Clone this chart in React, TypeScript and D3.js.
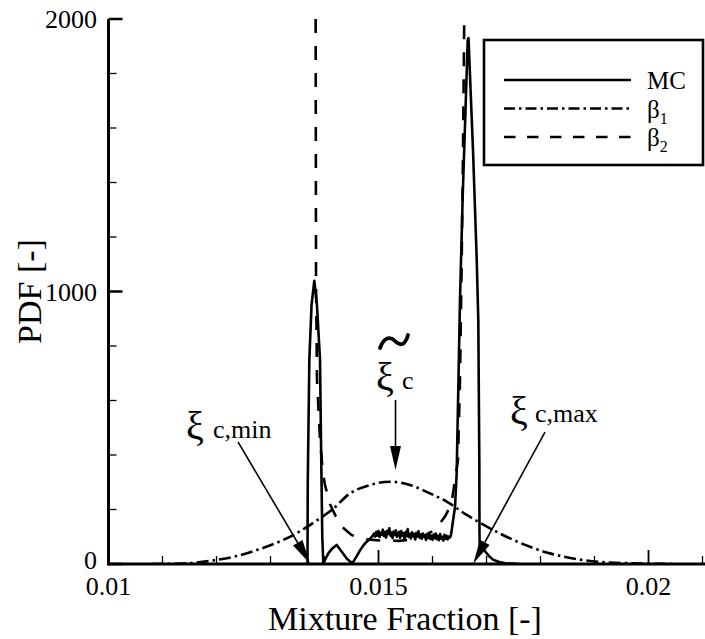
import React from "react";
import * as d3 from "d3";

const W = 705;
const H = 639;

// Monte-Carlo PDF (solid)
const mcCurve: [number, number][] = [
  [0.0136, 0], [0.013685, 0], [0.01369, 300], [0.0137, 455], [0.013719, 749],
  [0.01376, 950], [0.013811, 1039], [0.01386, 950], [0.013917, 749], [0.013935, 455],
  [0.013959, 100], [0.013978, 3], [0.01407, 39], [0.01415, 58], [0.014226, 70],
  [0.01432, 45], [0.014411, 20], [0.014504, 4], [0.014533, 8], [0.0146, 30],
  [0.014657, 50], [0.01472, 68], [0.014781, 82], [0.01484, 92], [0.01488, 100],
  [0.0149, 106], [0.01492, 112], [0.01494, 101], [0.01496, 118], [0.01498, 104],
  [0.015, 121], [0.01502, 99], [0.01504, 114], [0.01506, 108], [0.01508, 126],
  [0.0151, 103], [0.01512, 117], [0.01514, 97], [0.01516, 122], [0.01518, 110],
  [0.0152, 131], [0.01522, 104], [0.01524, 115], [0.01526, 95], [0.01528, 119],
  [0.0153, 107], [0.01532, 124], [0.01534, 100], [0.01536, 112], [0.01538, 118],
  [0.0154, 96], [0.01542, 121], [0.01544, 105], [0.01546, 113], [0.01548, 92],
  [0.0155, 117], [0.01552, 103], [0.01554, 128], [0.01556, 99], [0.01558, 110],
  [0.0156, 94], [0.01562, 116], [0.01564, 102], [0.01566, 111], [0.01568, 90],
  [0.0157, 114], [0.01572, 101], [0.01574, 120], [0.01576, 97], [0.01578, 108],
  [0.0158, 93], [0.01582, 112], [0.01584, 99], [0.01586, 106], [0.01588, 88],
  [0.0159, 110], [0.01592, 96], [0.01594, 115], [0.01596, 92], [0.01598, 104],
  [0.016, 89], [0.01602, 108], [0.01604, 95], [0.01606, 112], [0.01608, 91],
  [0.0161, 103], [0.01612, 87], [0.01614, 110], [0.01616, 94], [0.01618, 100],
  [0.0162, 86], [0.01622, 107], [0.01624, 93], [0.01626, 104], [0.01628, 90],
  [0.0163, 101], [0.01632, 97], [0.01634, 105], [0.016356, 125], [0.016417, 210],
  [0.016448, 334], [0.016459, 455], [0.016481, 675], [0.016509, 969], [0.016559, 1347],
  [0.016611, 1666], [0.016652, 1923], [0.016667, 1930], [0.01675, 1519], [0.016819, 1116],
  [0.016848, 895], [0.016867, 382], [0.01687, 120], [0.016875, 62], [0.01692, 60],
  [0.01697, 48], [0.01704, 30], [0.01712, 16], [0.01722, 8], [0.01735, 3], [0.0176, 0],
];

// Presumed beta PDF over the full mixture-fraction range (dash-dot)
const beta1Curve: [number, number][] = [
  [0.0108, 0], [0.0112, 1], [0.01163, 5], [0.012, 15], [0.012374, 29],
  [0.012744, 51], [0.013115, 78], [0.013422, 106], [0.01367, 135], [0.013917, 168],
  [0.014133, 198], [0.014472, 259], [0.014843, 290], [0.015213, 302], [0.015583, 290],
  [0.015954, 259], [0.016263, 229], [0.016633, 180], [0.017065, 131], [0.017435, 94],
  [0.017806, 63], [0.018176, 39], [0.018485, 25], [0.01906, 8], [0.01984, 2], [0.0205, 0],
];

// Beta PDF bounded by the min/max mixture fraction (dashed)
const beta2Curve: [number, number][] = [
  [0.013836, 2000], [0.013843, 1042], [0.013861, 675], [0.013917, 455], [0.013972, 334],
  [0.014009, 290], [0.0141, 220], [0.014287, 143], [0.014504, 106], [0.014719, 91],
  [0.015059, 86], [0.015398, 85], [0.015769, 95], [0.016046, 125], [0.016231, 174],
  [0.016324, 210], [0.016361, 235], [0.016417, 308], [0.016472, 382], [0.016509, 675],
  [0.016541, 1116], [0.016565, 1519], [0.016588, 2000],
];

const xMajorTicks = [0.01, 0.015, 0.02];
const xTickLabels = ["0.01", "0.015", "0.02"];
const xMinorTicks = [0.011, 0.012, 0.013, 0.014, 0.016, 0.017, 0.018, 0.019, 0.021];
const yMajorTicks = [0, 1000, 2000];
const yTickLabels = ["0", "1000", "2000"];
const yMinorTicks = [200, 400, 600, 800, 1200, 1400, 1600, 1800];

const legendNames = ["MC", "β", "β"];
const legendSubs = ["", "1", "2"];

// Annotation arrows: tail and tip in data units
const arrowMin = { tail: [0.012398, 448], tip: [0.013731, 2] };
const arrowMean = { tail: [0.015315, 602], tip: [0.015315, 345] };
const arrowMax = { tail: [0.018083, 484], tip: [0.016756, 2] };

const FONT = "'Liberation Serif', 'Times New Roman', serif";

function Arrow({ x1, y1, x2, y2 }: { x1: number; y1: number; x2: number; y2: number }) {
  const dx = x2 - x1;
  const dy = y2 - y1;
  const len = Math.hypot(dx, dy);
  const ux = dx / len;
  const uy = dy / len;
  const hl = 24;
  const hw = 5.5;
  const bx = x2 - ux * hl;
  const by = y2 - uy * hl;
  const pts = [
    [x2, y2],
    [bx - uy * hw, by + ux * hw],
    [bx + uy * hw, by - ux * hw],
  ];
  return (
    <g>
      <line x1={x1} y1={y1} x2={bx} y2={by} stroke="#000" strokeWidth={1.6} />
      <polygon points={pts.map((p) => p.join(",")).join(" ")} fill="#000" />
    </g>
  );
}

export default function App() {
  const x = d3.scaleLinear().domain([0.01, 0.021]).range([108.5, 702.5]);
  const y = d3.scaleLinear().domain([0, 2000]).range([564, 19]);

  const line = d3
    .line<[number, number]>()
    .x((d) => x(d[0]))
    .y((d) => y(d[1]));
  const smooth = d3
    .line<[number, number]>()
    .x((d) => x(d[0]))
    .y((d) => y(d[1]))
    .curve(d3.curveMonotoneX);

  const x0 = x(0.01);
  const y0 = y(0);

  const legendY = [80, 108.5, 137];

  return (
    <svg
      width={W}
      height={H}
      viewBox={`0 0 ${W} ${H}`}
      style={{ position: "absolute", left: 0, top: 0, background: "#fff" }}
      fontFamily={FONT}
    >
      <rect x={0} y={0} width={W} height={H} fill="#fff" />
      <defs>
        <clipPath id="plot-area">
          <rect x={x0} y={y(2000) - 1} width={W - x0} height={y0 - y(2000) + 2} />
        </clipPath>
      </defs>

      <g clipPath="url(#plot-area)" fill="none" stroke="#000" strokeLinejoin="round">
        <path d={smooth(beta1Curve) || ""} strokeWidth={2.6} strokeDasharray="12,4,2.5,4" />
        <path d={line(beta2Curve) || ""} strokeWidth={2.6} strokeDasharray="14,13" />
        <path d={line(mcCurve) || ""} strokeWidth={2.6} />
      </g>

      {/* axes */}
      <g stroke="#000">
        <line x1={x0} y1={y0} x2={W} y2={y0} strokeWidth={3} />
        <line x1={x0} y1={y0 + 1.5} x2={x0} y2={y(2000)} strokeWidth={3} />
        {xMajorTicks.map((t) => (
          <line key={"xM" + t} x1={x(t)} x2={x(t)} y1={y0} y2={y0 - 14} strokeWidth={1.8} />
        ))}
        {xMinorTicks.map((t) => (
          <line key={"xm" + t} x1={x(t)} x2={x(t)} y1={y0} y2={y0 - 8} strokeWidth={1.3} />
        ))}
        {yMajorTicks.map((t) => (
          <line key={"yM" + t} x1={x0} x2={x0 + 14} y1={y(t)} y2={y(t)} strokeWidth={2.5} />
        ))}
        {yMinorTicks.map((t) => (
          <line key={"ym" + t} x1={x0} x2={x0 + 8} y1={y(t)} y2={y(t)} strokeWidth={1.3} />
        ))}
      </g>

      <g fontSize={26} fill="#000">
        {xMajorTicks.map((t, i) => (
          <text key={"xl" + t} x={x(t)} y={595} textAnchor="middle">
            {xTickLabels[i]}
          </text>
        ))}
        {yMajorTicks.map((t, i) => (
          <text key={"yl" + t} x={97} y={y(t) + (t === 0 ? 5 : 9)} textAnchor="end">
            {yTickLabels[i]}
          </text>
        ))}
      </g>

      <text x={405} y={630} fontSize={34} textAnchor="middle">
        Mixture Fraction [-]
      </text>
      <text x={0} y={0} fontSize={34} textAnchor="middle" transform={`translate(41,${y(1000)}) rotate(-90)`}>
        PDF [-]
      </text>

      {/* legend */}
      <rect x={484} y={40} width={219} height={125} fill="#fff" stroke="#000" strokeWidth={2.6} />
      {legendNames.map((n, i) => (
        <g key={"lg" + i}>
          <line
            x1={504}
            x2={631}
            y1={legendY[i]}
            y2={legendY[i]}
            stroke="#000"
            strokeWidth={2.6}
            strokeDasharray={i === 0 ? undefined : i === 1 ? "11,4,2.5,4" : "11.5,11.5"}
          />
          <text x={647} y={legendY[i] + 9} fontSize={25}>
            {n}
            {legendSubs[i] && (
              <tspan fontSize={16} dy={6}>
                {legendSubs[i]}
              </tspan>
            )}
          </text>
        </g>
      ))}

      {/* annotations */}
      <Arrow x1={x(arrowMin.tail[0])} y1={y(arrowMin.tail[1])} x2={x(arrowMin.tip[0])} y2={y(arrowMin.tip[1])} />
      <Arrow x1={x(arrowMean.tail[0])} y1={y(arrowMean.tail[1])} x2={x(arrowMean.tip[0])} y2={y(arrowMean.tip[1])} />
      <Arrow x1={x(arrowMax.tail[0])} y1={y(arrowMax.tail[1])} x2={x(arrowMax.tip[0])} y2={y(arrowMax.tip[1])} />

      <g fill="#000">
        <text x={186} y={439} fontSize={40}>ξ</text>
        <text x={213} y={438} fontSize={26}>c,min</text>

        <text x={376} y={390} fontSize={40}>ξ</text>
        <text x={402} y={389} fontSize={26}>c</text>
        <path
          d="M380,348 C384,337 390,336 395,341 C400,346 405,346 408,335"
          fill="none"
          stroke="#000"
          strokeWidth={3.8}
          strokeLinecap="round"
        />

        <text x={510} y={424} fontSize={40}>ξ</text>
        <text x={535} y={422} fontSize={26}>c,max</text>
      </g>
    </svg>
  );
}
